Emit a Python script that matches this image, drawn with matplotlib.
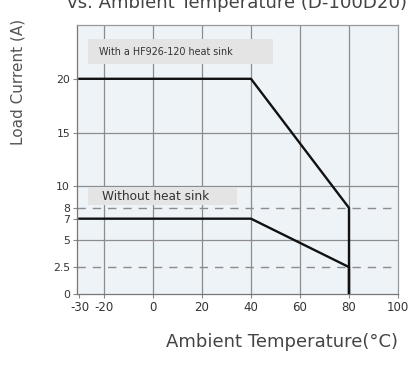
import matplotlib
matplotlib.use("Agg")
import matplotlib.pyplot as plt
from matplotlib.patches import Rectangle

# Data
temp_heatsink = [-30, 40, 80, 80]
curr_heatsink = [20, 20, 8, 0]
temp_noheatsink = [-30, 40, 80, 80]
curr_noheatsink = [7, 7, 2.5, 0]
xticks = [-30, -20, 0, 20, 40, 60, 80, 100]
yticks = [0, 2.5, 5, 7, 8, 10, 15, 20]
ytick_labels = ["0", "2.5", "5", "7", "8", "10", "15", "20"]
dashed_levels = [8, 2.5]
solid_levels = [5, 10, 15]
vgrid = [-20, 0, 20, 40, 60, 80]

W, H = 414, 371
fig = plt.figure(figsize=(W/100, H/100), dpi=100)
ax = fig.add_axes([77/W, 1-294/H, (398-77)/W, (294-25)/H])
ax.set_facecolor("#eef3f8")
ax.set_xlim(-31, 100)
ax.set_ylim(0, 25)

for x in vgrid:
    ax.axvline(x, color="#8c8c8c", lw=0.9, zorder=1)
for y in solid_levels:
    ax.axhline(y, color="#8c8c8c", lw=0.9, zorder=1)
for y in dashed_levels:
    ax.axhline(y, color="#8c8c8c", lw=1.0, ls=(0, (6, 5)), zorder=1)

ax.plot(temp_heatsink, curr_heatsink, color="#111111", lw=1.7, zorder=4)
ax.plot(temp_noheatsink, curr_noheatsink, color="#111111", lw=1.7, zorder=4)

ax.add_patch(Rectangle((-26.5, 21.4), 75.5, 2.3, facecolor="#e4e4e4", edgecolor="none", zorder=2))
ax.text(-22, 22.5, "With a HF926-120 heat sink", fontsize=6.9, color="#333333", va="center", zorder=3)
ax.add_patch(Rectangle((-26.5, 8.25), 60.8, 1.65, facecolor="#e4e4e4", edgecolor="none", zorder=2))
ax.text(-21, 9.1, "Without heat sink", fontsize=8.7, color="#333333", va="center", zorder=3)

ax.set_xticks(xticks)
ax.set_xticklabels([str(t) for t in xticks], fontsize=8.5, color="#333333", family=["Liberation Sans Narrow", "DejaVu Sans"])
ax.set_yticks(yticks)
ax.set_yticklabels(ytick_labels, fontsize=7.8, color="#333333", family=["Liberation Sans Narrow", "DejaVu Sans"])
ax.tick_params(length=3, color="#888888", pad=2)
for s in ax.spines.values():
    s.set_color("#999999")
    s.set_linewidth(0.9)
ax.spines["left"].set_color("#777777")
ax.spines["bottom"].set_color("#777777")

fig.text(398/W, 1-342/H, "Ambient Temperature(°C)", fontsize=13, color="#444444", ha="right", va="center")
fig.text(18/W, 1-82/H, "Load Current (A)", fontsize=11, color="#555555", rotation=90, ha="center", va="center")
fig.text(67/W, 1-3/H, "vs. Ambient Temperature (D-100D20)", fontsize=13.1, color="#444444", ha="left", va="center")

fig.savefig("out.png", dpi=100, facecolor="white")
